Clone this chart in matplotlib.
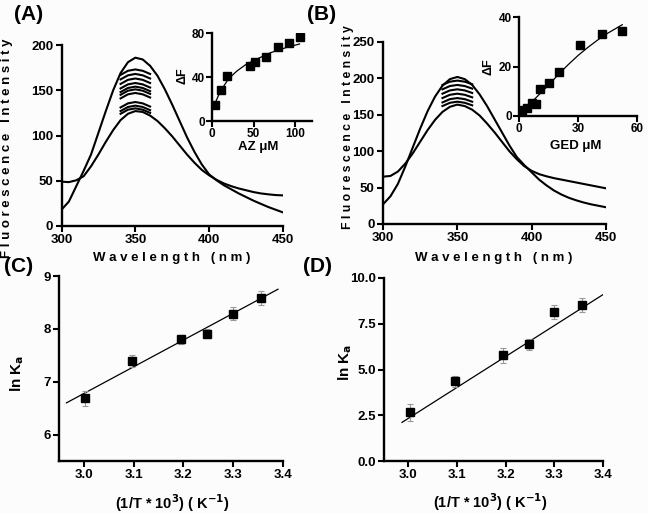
import matplotlib
matplotlib.use("Agg")
import matplotlib.pyplot as plt

plt.rcParams['font.family'] = ['Liberation Sans', 'DejaVu Sans']
plt.rcParams['font.weight'] = 'bold'

W, H = 648, 513

# ---------------- data ----------------
wavelength = [300, 305, 310, 315, 320, 325, 330, 335, 340, 345, 350, 355, 360, 365, 370, 375,
              380, 385, 390, 395, 400, 405, 410, 415, 420, 425, 430, 435, 440, 445, 450]

a_top = [18, 27, 44, 61, 79, 103, 127, 150, 169, 181, 186, 184, 177, 166, 151, 134,
         116, 98, 82, 68, 57, 50.5, 45, 40.5, 36, 32, 28, 24.5, 21, 18, 15]
a_bottom = [49, 48.5, 50.5, 55, 66, 79, 93, 106, 117, 124, 127, 126, 122, 116, 108, 99,
            89, 79, 70, 62, 56, 51, 47, 44, 41.5, 39.5, 37.5, 36, 35, 34.2, 33.8]

b_top = [27, 38, 55, 79, 105, 131, 155, 175, 190, 199, 202, 199, 191, 178, 162, 144,
         126, 108, 92, 81, 71, 61, 53, 46, 40.5, 36, 32.5, 29.5, 27, 25, 23]
b_bottom = [65, 66, 72, 83, 97, 113, 129, 143, 154, 161, 164, 162, 157, 149, 138, 126,
            113, 100, 89, 79.5, 73, 68.5, 65.5, 63, 61, 59, 57, 55, 53, 51, 49]

arc_wl = [340, 345, 350, 355, 360]
a_arcs = [
    [167, 171.5, 173, 171.5, 168],
    [162, 166.5, 168, 166.5, 163],
    [157, 161.5, 163, 161.5, 158],
    [152, 156.5, 158, 156.5, 153],
    [148, 152.5, 154, 152.5, 149],
    [145, 149.5, 151, 149.5, 146],
    [141, 145.5, 147, 145.5, 142],
    [131, 135.5, 137, 135.5, 132],
    [127, 131.5, 133, 131.5, 128],
    [124, 128.5, 130, 128.5, 125],
]
b_arcs = [
    [191, 195.5, 197, 195.5, 192],
    [185, 189.5, 191, 189.5, 186],
    [179, 183.5, 185, 183.5, 180],
    [173, 177.5, 179, 177.5, 174],
    [167, 171.5, 173, 171.5, 168],
    [162, 166.5, 168, 166.5, 163],
]

az_conc = [3, 11, 18, 45, 52, 65, 79, 92, 105]
az_dF = [15, 28, 41, 50, 54, 58, 67, 71, 76]
az_fit_x = [3, 10, 20, 30, 40, 50, 60, 70, 80, 90, 105]
az_fit_y = [15, 27, 38.5, 45.5, 51, 55, 58.5, 62, 64.5, 67, 70]

ged_conc = [1.5, 4, 6.5, 8.5, 10.5, 15.5, 20.5, 31, 42, 52.5]
ged_dF = [2.4, 3.1, 5.4, 5.0, 10.9, 13.2, 17.9, 28.7, 33.1, 34.3]
ged_fit_x = [1.5, 5, 10, 15, 20, 25, 30, 35, 40, 45, 52.5]
ged_fit_y = [1.8, 4.5, 8.5, 12.5, 16.8, 20.8, 24.5, 27.8, 30.8, 33.5, 37]

invT = [3.003, 3.096, 3.195, 3.247, 3.300, 3.356]
c_lnKa = [6.69, 7.39, 7.80, 7.91, 8.29, 8.58]
c_err = [0.14, 0.12, 0.09, 0.09, 0.12, 0.13]
c_fit_x = [2.965, 3.39]
c_fit_y = [6.6, 8.75]

d_lnKa = [2.66, 4.37, 5.77, 6.37, 8.14, 8.52]
d_err = [0.45, 0.3, 0.4, 0.3, 0.4, 0.4]
d_fit_x = [2.987, 3.404]
d_fit_y = [2.11, 9.16]

# ---------------- helpers ----------------
def rect(l, t, r, b):
    return [l / W, 1 - b / H, (r - l) / W, (b - t) / H]

def fp(x, y):
    return x / W, 1 - y / H

def style(ax, size, pad=2):
    for s in ['top', 'right']:
        ax.spines[s].set_visible(False)
    for s in ['left', 'bottom']:
        ax.spines[s].set_linewidth(1.7)
    ax.tick_params(direction='out', length=4, width=1.5, labelsize=size, pad=pad)
    for lbl in ax.get_xticklabels() + ax.get_yticklabels():
        lbl.set_fontweight('bold')
    ax.patch.set_alpha(0)

fig = plt.figure(figsize=(W / 100, H / 100), dpi=100, facecolor='#fdfcfc')

# ---------------- panel A ----------------
axA = fig.add_axes(rect(61.5, 45, 283, 226))
axA.plot(wavelength, a_top, color='black', lw=1.5)
axA.plot(wavelength, a_bottom, color='black', lw=1.5)
for arc in a_arcs:
    axA.plot(arc_wl, arc, color='black', lw=1.5)
axA.set_xlim(300, 450)
axA.set_ylim(0, 200)
axA.set_xticks([300, 350, 400, 450])
axA.set_yticks([0, 50, 100, 150, 200])
style(axA, 9.5)

insA = fig.add_axes(rect(212, 33, 312, 121))
insA.plot(az_fit_x, az_fit_y, color='black', lw=0.9)
insA.plot(az_conc, az_dF, 's', color='black', ms=5.2)
insA.set_xlim(0, 120)
insA.set_ylim(0, 80)
insA.set_xticks([0, 50, 100])
insA.set_yticks([0, 40, 80])
style(insA, 8.5, pad=1)

# ---------------- panel B ----------------
axB = fig.add_axes(rect(383, 42, 606, 224))
axB.plot(wavelength, b_top, color='black', lw=1.5)
axB.plot(wavelength, b_bottom, color='black', lw=1.5)
for arc in b_arcs:
    axB.plot(arc_wl, arc, color='black', lw=1.5)
axB.set_xlim(300, 450)
axB.set_ylim(0, 250)
axB.set_xticks([300, 350, 400, 450])
axB.set_yticks([0, 50, 100, 150, 200, 250])
style(axB, 9.5)

insB = fig.add_axes(rect(519, 17.3, 637, 116))
insB.plot(ged_fit_x, ged_fit_y, color='black', lw=0.9)
insB.plot(ged_conc, ged_dF, 's', color='black', ms=5.2)
insB.set_xlim(0, 60)
insB.set_ylim(0, 40)
insB.set_xticks([0, 30, 60])
insB.set_yticks([0, 20, 40])
style(insB, 8.5, pad=1)

# ---------------- panel C ----------------
axC = fig.add_axes(rect(59, 276, 283, 461))
axC.plot(c_fit_x, c_fit_y, color='black', lw=0.9)
axC.errorbar(invT, c_lnKa, yerr=c_err, fmt='s', color='black', ms=6,
             ecolor='#999999', elinewidth=0.8, capsize=2, capthick=0.8)
axC.set_xlim(2.95, 3.4)
axC.set_ylim(5.5, 9)
axC.set_xticks([3.0, 3.1, 3.2, 3.3, 3.4])
axC.set_yticks([6, 7, 8, 9])
axC.set_xticklabels(['3.0', '3.1', '3.2', '3.3', '3.4'])
style(axC, 9.5)

# ---------------- panel D ----------------
axD = fig.add_axes(rect(384, 278, 603, 461))
axD.plot(d_fit_x, d_fit_y, color='black', lw=0.9)
axD.errorbar(invT, d_lnKa, yerr=d_err, fmt='s', color='black', ms=6,
             ecolor='#999999', elinewidth=0.8, capsize=2, capthick=0.8)
axD.set_xlim(2.95, 3.4)
axD.set_ylim(0, 10)
axD.set_xticks([3.0, 3.1, 3.2, 3.3, 3.4])
axD.set_yticks([0, 2.5, 5.0, 7.5, 10.0])
axD.set_xticklabels(['3.0', '3.1', '3.2', '3.3', '3.4'])
axD.set_yticklabels(['0.0', '2.5', '5.0', '7.5', '10.0'])
style(axD, 9.5)

# ---------------- texts ----------------
ylab = "F l u o r e s c e n c e   I n t e n s i t y"
xlab = "W a v e l e n g t h   ( n m )"
fig.text(*fp(7, 148), ylab, rotation=90, ha='center', va='center', fontsize=9.5, fontweight='bold')
fig.text(*fp(348, 127), ylab, rotation=90, ha='center', va='center', fontsize=8.8, fontweight='bold')
fig.text(*fp(172, 258), xlab, ha='center', va='center', fontsize=9.5, fontweight='bold')
fig.text(*fp(494, 258), xlab, ha='center', va='center', fontsize=9.5, fontweight='bold')

fig.text(*fp(258, 147), "AZ μM", ha='center', va='center', fontsize=9.5, fontweight='bold')
fig.text(*fp(576, 146), "GED μM", ha='center', va='center', fontsize=9.5, fontweight='bold')
fig.text(*fp(183, 76), "ΔF", rotation=90, ha='center', va='center', fontsize=9, fontweight='bold')
fig.text(*fp(488, 67), "ΔF", rotation=90, ha='center', va='center', fontsize=9, fontweight='bold')

fig.text(*fp(17, 373), r"ln K$_\mathrm{a}$", rotation=90, ha='center', va='center', fontsize=11, fontweight='bold')
fig.text(*fp(345, 362), r"ln K$_\mathrm{a}$", rotation=90, ha='center', va='center', fontsize=11, fontweight='bold')
xl2 = r"(1/T * 10$^\mathrm{3}$) ( K$^\mathrm{-1}$)"
fig.text(*fp(172, 503), xl2, ha='center', va='center', fontsize=10.5, fontweight='bold')
fig.text(*fp(490, 502), xl2, ha='center', va='center', fontsize=10.5, fontweight='bold')

fig.text(*fp(29, 15), "(A)", ha='center', va='center', fontsize=15, fontweight='bold')
fig.text(*fp(322, 14), "(B)", ha='center', va='center', fontsize=15, fontweight='bold')
fig.text(*fp(19, 266), "(C)", ha='center', va='center', fontsize=15, fontweight='bold')
fig.text(*fp(318, 266), "(D)", ha='center', va='center', fontsize=15, fontweight='bold')

fig.savefig("out.png", dpi=100, facecolor=fig.get_facecolor())
